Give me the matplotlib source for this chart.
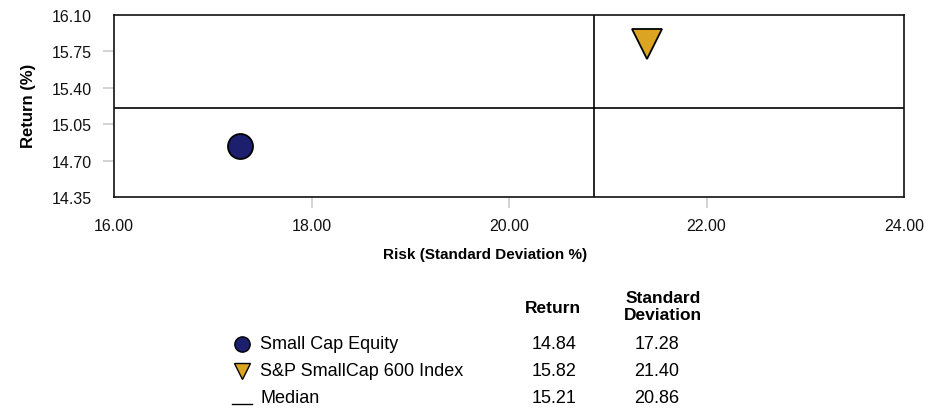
#!/usr/bin/env python3
# -*- coding:utf-8 -*-
# risk / return scatter with median lines and a small summary table

import matplotlib.pyplot as plt

plt.rcParams['font.family'] = ['Liberation Sans', 'DejaVu Sans']

names = ['Small Cap Equity', 'S&P SmallCap 600 Index']
risk = [17.28, 21.40]
ret = [14.84, 15.82]
colors = ['#1c1f6e', '#dba521']
markers = ['o', 'v']

median_ret = 15.21
median_risk = 20.86

x_ticks = [16.00, 18.00, 20.00, 22.00, 24.00]
y_ticks = [14.35, 14.70, 15.05, 15.40, 15.75, 16.10]


def init():
    fig = plt.figure(figsize=(9.4, 4.14), dpi=100)
    ax = fig.add_axes([114 / 940, 1 - 198 / 414, 790 / 940, 182 / 414])

    # median cross
    ax.axhline(median_ret, color='black', lw=1.2, zorder=1)
    ax.axvline(median_risk, color='black', lw=1.2, zorder=1)

    ax.plot(risk[0], ret[0], marker=markers[0], ms=18, color=colors[0],
            mec='black', mew=1.3, ls='none', zorder=3)
    ax.plot(risk[1], ret[1], marker=markers[1], ms=21, color=colors[1],
            mec='black', mew=1.3, ls='none', zorder=3)

    ax.set_xlim(x_ticks[0], x_ticks[-1])
    ax.set_ylim(y_ticks[0], y_ticks[-1])
    ax.set_xticks(x_ticks)
    ax.set_yticks(y_ticks)
    ax.set_xticklabels(['%.2f' % v for v in x_ticks])
    ax.set_yticklabels(['%.2f' % v for v in y_ticks])
    ax.tick_params(axis='both', length=8, width=1.3, color='#d0d0d0',
                   labelsize=11.5, labelcolor='#111111')
    ax.tick_params(axis='y', pad=8)
    ax.tick_params(axis='x', pad=7)
    for tl in (ax.xaxis.get_ticklines()[0], ax.xaxis.get_ticklines()[-2],
               ax.yaxis.get_ticklines()[0], ax.yaxis.get_ticklines()[-2]):
        tl.set_visible(False)
    for s in ax.spines.values():
        s.set_linewidth(1.2)
        s.set_color('#111111')

    fig.text(485 / 940, 1 - 255 / 414, 'Risk (Standard Deviation %)',
             ha='center', va='center', fontsize=11, fontweight='bold')
    fig.text(28 / 940, 1 - 106 / 414, 'Return (%)', rotation=90,
             ha='center', va='center', fontsize=12, fontweight='bold')

    # summary table underneath, laid out in pixel units
    tb = fig.add_axes([0, 0, 1, 1])
    tb.set_xlim(0, 940)
    tb.set_ylim(414, 0)
    tb.axis('off')

    tb.text(553, 309, 'Return', ha='center', va='center', fontsize=12.5,
            fontweight='bold')
    tb.text(663, 307, 'Standard\nDeviation', ha='center', va='center',
            fontsize=12.5, fontweight='bold', linespacing=1.15)

    rows_y = [345, 372]
    for i in range(len(names)):
        tb.plot(242, rows_y[i], marker=markers[i], ms=11, color=colors[i],
                mec='black', mew=1.0, ls='none')
        tb.text(260, rows_y[i], names[i], ha='left', va='center', fontsize=13)
        tb.text(554, rows_y[i], '%.2f' % ret[i], ha='center', va='center',
                fontsize=13)
        tb.text(657, rows_y[i], '%.2f' % risk[i], ha='center', va='center',
                fontsize=13)

    tb.plot([232, 252], [405, 405], color='black', lw=1.0)
    tb.text(260, 399, 'Median', ha='left', va='center', fontsize=13)
    tb.text(554, 399, '%.2f' % median_ret, ha='center', va='center', fontsize=13)
    tb.text(657, 399, '%.2f' % median_risk, ha='center', va='center',
            fontsize=13)

    plt.savefig('out.png', dpi=100)


if __name__ == '__main__':
    init()
